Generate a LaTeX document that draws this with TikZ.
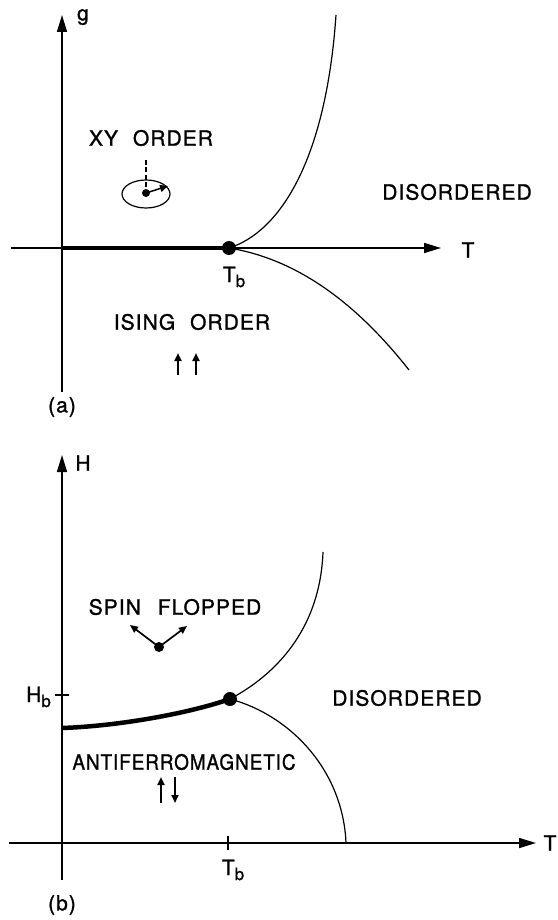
\documentclass[tikz,border=0pt]{standalone}
\usepackage{fontspec}
\setmainfont{TeX Gyre Heros}[LetterSpace=5,FakeBold=1.2]
\usetikzlibrary{arrows.meta}
\newcommand{\subb}{\raisebox{-5pt}{\fontsize{17}{17}\selectfont b}}
\begin{document}
\begin{tikzpicture}[x=1pt,y=-1pt,
  axis/.style={line width=1.6pt,-{Triangle[length=17pt,width=10pt]}},
  tick/.style={line width=1.6pt},
  phase/.style={line width=1.2pt},
  firstorder/.style={line width=4.5pt},
  crit/.style={circle,fill=black,inner sep=0pt,minimum size=14pt},
  spindot/.style={circle,fill=black,inner sep=0pt,minimum size=10pt},
  lbl/.style={font=\fontsize{21}{25}\selectfont, inner sep=0pt},
  spinarrow/.style={line width=1.7pt,-{Triangle[length=8pt,width=7pt]}},
  smallspin/.style={line width=2pt,-{Triangle[length=8pt,width=7pt]}},
]
\useasboundingbox (0,0) rectangle (557,920);

% ---------------- panel (a) ----------------
\coordinate (ga0) at (62,392);
\coordinate (ga1) at (62,15);
\coordinate (ta0) at (11,248);
\coordinate (ta1) at (441,248);
\coordinate (Oa) at (62,248);
\draw[axis] (ga0) -- (ga1);
\draw[axis] (ta0) -- (ta1);
\node[lbl] (g) at (83,17) {g};
\node[lbl] (Ta) at (468,250) {T};
\node[crit] (dota) at (229,248) {};
\draw[firstorder] (Oa) -- (dota.center);
\coordinate (ua) at (336,15);
\coordinate (la) at (409,370);
\draw[phase] (dota.center) .. controls (280,232) and (326,160) .. (ua);
\draw[phase] (dota.center) .. controls (290,258) and (350,295) .. (la);
\node[lbl] (Tba) at (234,277) {T\subb};
\node[lbl] (xy) at (151,138) {XY\hspace{8pt} ORDER};
\node[lbl] (disa) at (457,192) {DISORDERED};
\node[lbl] (ising) at (192,322) {ISING\hspace{8pt} ORDER};
\node[lbl] (alab) at (62,407) {(a)};
% XY spin symbol
\node[spindot,minimum size=8pt] (xyd) at (146,193) {};
\draw[phase] (146,194) ellipse [x radius=24, y radius=14];
\coordinate (xytop) at (146,160);
\draw[phase,line width=1.4pt,dash pattern=on 5pt off 2.5pt] (xytop) -- (xyd.center);
\coordinate (xyh) at (168,186);
\draw[spinarrow,line width=1.5pt] (xyd.center) -- (xyh);
% Ising spins
\coordinate (i1a) at (178,375); \coordinate (i1b) at (178,353);
\coordinate (i2a) at (196,375); \coordinate (i2b) at (196,353);
\draw[smallspin] (i1a) -- (i1b);
\draw[smallspin] (i2a) -- (i2b);

% ---------------- panel (b) ----------------
\coordinate (hb0) at (62,880);
\coordinate (hb1) at (62,455);
\coordinate (tb0) at (9,843);
\coordinate (tb1) at (536,843);
\draw[axis] (hb0) -- (hb1);
\draw[axis] (tb0) -- (tb1);
\node[lbl] (H) at (83,463) {H};
\node[lbl] (Tb) at (550,843) {T};
\coordinate (hbt0) at (55,695); \coordinate (hbt1) at (69,695);
\draw[tick] (hbt0) -- (hbt1);
\node[lbl,anchor=east] (Hb) at (51,697) {H\subb};
\coordinate (tbt0) at (228,836); \coordinate (tbt1) at (228,850);
\draw[tick] (tbt0) -- (tbt1);
\node[lbl] (Tbb) at (233,870) {T\subb};
\node[lbl] (blab) at (62,905) {(b)};
\node[crit] (dotb) at (230,699) {};
\coordinate (Hs) at (62,728);
\draw[firstorder] (Hs) .. controls (120,726) and (190,713) .. (dotb.center);
\coordinate (ub) at (323,552);
\coordinate (lb) at (346,843);
\draw[phase] (dotb.center) .. controls (275,675) and (320,630) .. (ub);
\draw[phase] (dotb.center) .. controls (290,715) and (343,770) .. (lb);
\node[lbl] (sf) at (175,607) {SPIN\hspace{10pt} FLOPPED};
\node[lbl] (disb) at (407,698) {DISORDERED};
\node[lbl] (afm) at (184,762) {\scalebox{0.9}[1]{ANTIFERROMAGNETIC}};
% spin-flop symbol
\node[spindot] (sfd) at (159,647) {};
\coordinate (sfl) at (130,625); \coordinate (sfr) at (187,626);
\draw[spinarrow] (sfd.center) -- (sfl);
\draw[spinarrow] (sfd.center) -- (sfr);
% antiferro spins
\coordinate (a1a) at (161,803); \coordinate (a1b) at (161,777);
\coordinate (a2a) at (175,777); \coordinate (a2b) at (175,803);
\draw[smallspin] (a1a) -- (a1b);
\draw[smallspin] (a2a) -- (a2b);
\end{tikzpicture}
\end{document}
